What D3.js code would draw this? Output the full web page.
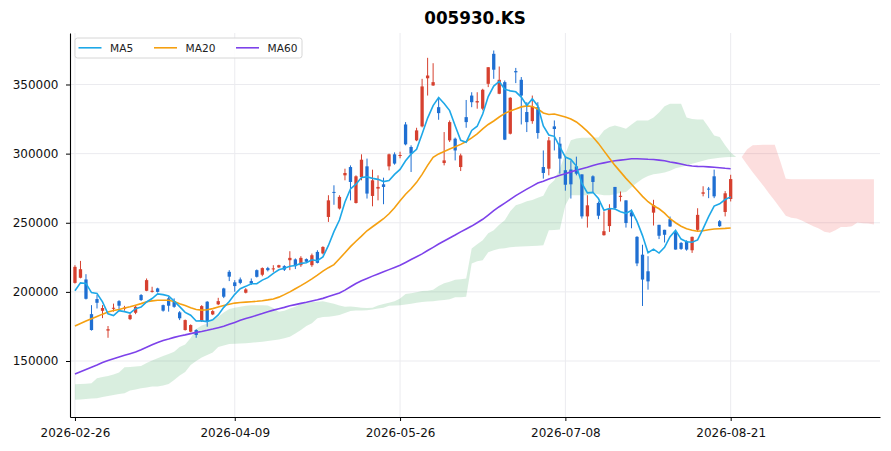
<!DOCTYPE html>
<html><head><meta charset="utf-8">
<script src="https://cdn.jsdelivr.net/npm/d3@7"></script>
<style>html,body{margin:0;padding:0;background:#fff;}svg{display:block;font-family:"DejaVu Sans",sans-serif;}</style>
</head><body>
<svg id="chart" width="891" height="451"></svg>
<script>
const title = "005930.KS";
const tickIdx = [0, 29, 59, 89, 119];
const tickLabels = ["2026-02-26","2026-04-09","2026-05-26","2026-07-08","2026-08-21"];
const yTicks = [150000, 200000, 250000, 300000, 350000];
const seriesNames = ["MA5", "MA20", "MA60"];

const open = [206500,210200,209000,183900,194800,186300,172000,188000,193300,188000,
180300,184900,197700,200800,200000,202500,190400,195300,193300,185200,
172400,171200,172400,178900,192900,183700,191000,202500,214500,206900,
209000,199400,207800,215700,212400,217200,216500,217700,218600,222900,
223500,219300,223700,219300,228900,227800,254200,272300,260300,284300,
290300,264300,283100,290800,269400,274700,277800,290800,299500,298500,
321100,304800,309600,319700,354500,349300,333600,293200,309600,310800,
290300,326400,342000,337000,332500,350500,372200,343300,351700,314400,
359700,353400,330100,323500,333600,290300,289100,319700,307200,288000,
288500,290800,285000,254600,283600,264300,241000,247600,275900,268700,
266200,257500,239800,226900,214900,257300,248500,244900,252600,243100,
235400,236600,230100,244900,271000,274700,283600,251100,257800,267200];

const high = [219300,222400,212800,190400,197700,190400,175300,191500,194000,189900,
184400,190400,198400,209700,203700,203000,190800,196500,195300,186100,
180000,176500,173000,190400,193300,186800,195700,203000,215700,208500,
210400,202700,209700,216200,217700,218100,219300,219600,219300,229400,
224200,225800,224200,227700,230100,233000,269900,277100,269900,289100,
291500,284300,299500,296400,288400,284300,282600,300000,300900,301400,
322800,306000,318700,354100,369300,365400,340800,315600,324000,311600,
300000,338800,344400,344400,346900,362500,374600,363000,352900,340800,
362000,355400,337200,342000,337200,302300,312000,324000,312000,297800,
295100,297800,285000,269900,284300,265400,258200,263400,275900,272600,
266200,259500,240300,234100,225800,266600,248500,244900,254500,243900,
236000,237300,240000,260500,276400,275900,288400,252000,272900,284700];

const low = [206000,209800,194500,172000,188000,181000,166800,185700,187500,186400,
179600,183900,193400,200500,199500,199500,185700,185700,188500,179600,
172000,170800,166800,178200,174800,183200,190400,195500,207800,200100,
205500,198900,205000,210400,211300,214800,214500,217400,215100,215700,
216500,218100,221000,218100,220600,227100,250600,263000,259600,280700,
266200,263900,280700,267500,261900,266200,263400,287900,292000,296600,
306000,286700,309000,319000,342000,349000,324500,291500,308400,295100,
287400,318700,333600,332500,331300,348100,354100,343000,309800,313900,
351000,321100,315600,321600,310800,281900,284300,302300,285500,273200,
267500,284300,253000,246500,271600,252600,240700,243400,259500,265400,
246500,246000,218600,189800,201600,248000,238200,235700,247000,230600,
230400,229800,228200,243900,269100,267800,267800,247000,254600,265400];

const close = [218100,216400,195000,172400,192100,188300,173000,188500,190000,188600,
183200,189200,194100,208500,200800,200000,186400,190000,189200,180900,
179600,176000,168800,189700,178400,186100,193300,196500,211000,204200,
206500,201800,206100,210900,217200,215700,217000,219300,216100,224600,
218600,224600,221800,226500,221000,232500,266200,271600,268700,286000,
279500,283600,295600,271100,280700,275900,275900,299500,292800,299000,
306700,300000,316800,348600,356500,351700,329300,295100,322800,302300,
298700,322800,337200,338000,346200,362500,360700,353400,310100,340400,
358800,342000,322800,334100,314900,286000,309600,317800,296400,277500,
277800,285500,254600,262600,279500,255100,243900,260200,260700,269500,
249800,254600,220600,208900,207600,262800,240600,241300,247300,230600,
231100,230600,239800,255700,272000,274000,269100,247500,271300,281600];

const ma5 = [200800,206500,206100,199500,198800,192800,184200,182900,186400,185700,
184700,187900,189000,192700,195200,198500,198000,197100,193300,189300,
185200,183100,178900,179000,178500,179800,183300,188800,193100,198200,
202300,204000,205900,205900,208500,210300,213400,216000,217100,218500,
219100,220600,221100,223200,222500,225300,233600,243600,252000,265000,
274400,277900,282700,283200,282100,281400,279800,280600,285000,288600,
294800,299600,303100,314200,325700,334700,340600,336200,331100,320200,
309600,308300,316800,319800,328600,341300,348900,352200,346600,345400,
344700,340900,334800,339600,334500,320000,313500,312500,304900,297500,
295800,291000,278400,271600,272000,267500,259100,260300,259900,257900,
256800,259000,251000,240700,228300,230900,228100,232200,239900,244500,
238200,236200,235900,237600,245800,254400,262100,263700,266800,268700];

const ma20 = [175300,177100,178900,180600,182200,183900,185400,186500,187300,188300,
189200,190400,191500,192800,193500,194000,194000,193900,193100,191500,
190100,188600,187200,186800,187100,187900,189000,190100,191000,191900,
192300,192600,192900,193200,193600,194200,194900,196200,198000,200000,
202300,204500,206900,209400,212100,215000,217500,219700,224000,228300,
232700,236600,240300,244200,247100,250000,252900,256500,260800,265900,
270600,274600,279200,285000,291500,297300,299800,301600,303400,304900,
306700,308800,311400,314300,317900,321100,323600,326500,329100,330900,
332300,333800,334500,334100,332300,329400,328300,328700,327600,326500,
325100,322900,319700,316100,312000,307400,302000,296600,291500,286800,
282100,277800,273500,269100,265200,262300,260100,256900,252900,250000,
247500,245700,244600,243900,244200,244900,245500,245700,245900,246200];

const ma60 = [140600,142200,143900,145500,147100,148900,150400,151700,152900,154100,
155300,156500,158100,159900,161700,163400,164800,165900,167100,168100,
168900,169800,170700,171400,172200,173100,174100,175100,176500,177900,
179400,180700,181900,183100,184300,185600,186800,187800,188800,189900,
190800,191700,192500,193400,194300,195300,196600,197900,199200,201300,
203700,206100,208100,209700,211400,213000,214500,216100,217700,219300,
221300,223400,225400,227500,229900,232200,234600,236800,239000,241100,
243400,245500,247600,250000,252500,255600,258700,261600,264200,266900,
269600,272000,274300,276500,278700,280100,281600,282900,284300,285500,
286800,287900,289100,290200,291400,292500,293300,294100,294800,295300,
295800,296300,296300,296100,295900,295800,295300,294800,294000,293300,
292500,291600,291000,290800,290700,290400,290100,289800,289400,289100];

const spanA = [133200,133400,133600,133900,137500,138400,139200,140300,141600,145500,
145700,146000,146400,148600,150400,152000,153600,155100,156700,160100,
161900,166600,173100,175600,177200,179600,182000,185000,187600,188600,
189200,189900,190400,190400,190400,190100,188300,185600,186300,187900,
189200,191500,192300,192600,192800,193300,192300,191500,190100,189200,
189400,189000,188600,188300,188600,190100,191200,192200,193300,195300,
198400,199100,199800,200600,200900,201600,204200,206300,207400,208800,
209200,209700,231400,234500,237400,242400,244600,248600,251800,258300,
262600,263900,265500,266400,268100,269500,277100,280700,289300,300000,
309600,311000,311400,311500,311700,311700,316800,319300,320400,319300,
318000,321100,324000,324000,324000,326200,329800,334200,336100,336100,
336100,326200,325100,324700,324700,319000,313200,312100,306000,300900,
297600,297600,291900,286500,281400,276400,270900,265900,260500,255100,
253600,253000,251400,249400,247500,245800,243500,242800,244600,247000,
247000,247500,250200,249600,249400,248700];

const spanB = [121900,122200,122600,122900,123100,124000,124700,125500,126200,126700,
128700,129400,130300,130900,131500,131500,132300,133400,136300,139500,
142100,147100,150000,152500,154300,156200,160100,161200,162300,162500,
162600,162900,163200,163600,164000,164500,165000,165500,166500,167500,
169900,172400,175300,177400,181000,181800,182100,182500,183200,184700,
186100,186500,186600,186800,187200,187900,188600,189900,190200,190400,
190900,191500,192100,192600,193000,193300,193800,194200,194600,196200,
196200,196400,220500,222200,222900,228700,230100,231200,231600,232300,
232700,232800,233000,233200,233400,233800,244600,244800,245100,262600,
269900,269900,269900,269900,271300,270600,269900,269900,270600,271700,
272200,275600,278900,281800,283900,285000,285700,286400,287600,289400,
290400,291500,292600,293700,294800,295900,296400,297000,297300,297500,
297600,297600,303100,306000,306300,306500,306500,306500,294400,281900,
281400,281400,281400,281400,281400,281400,281400,281400,281400,281400,
281400,281400,281400,281400,281400,281400];

const colors = {up:"#d6402f", down:"#1f6fd2", ma5:"#1ea8e8", ma20:"#f5a011", ma60:"#7d42ea",
  cloudUp:"rgba(46,160,80,0.18)", cloudDown:"rgba(240,60,60,0.17)", grid:"#ebebef"};

const svg = d3.select("#chart");
const L = 70, R = 880, T = 33, B = 417;
const x = d3.scaleLinear().domain([-0.9, 146.1]).range([L, R]);
const y = d3.scaleLinear().domain([109500, 387250]).range([B, T]);

// grid
const g = svg.append("g");
g.selectAll("line.h").data(yTicks).join("line")
  .attr("x1", L).attr("x2", R).attr("y1", d => y(d)).attr("y2", d => y(d))
  .attr("stroke", colors.grid).attr("stroke-width", 1);
g.selectAll("line.v").data(tickIdx).join("line")
  .attr("x1", d => x(d)).attr("x2", d => x(d)).attr("y1", T).attr("y2", B)
  .attr("stroke", colors.grid).attr("stroke-width", 1);

// cloud
const idx = d3.range(spanA.length);
const greenArea = d3.area().x(i => x(i)).y0(i => y(spanB[i])).y1(i => y(Math.max(spanA[i], spanB[i])));
const pinkArea = d3.area().x(i => x(i)).y0(i => y(spanA[i])).y1(i => y(Math.max(spanA[i], spanB[i])));
svg.append("path").attr("d", greenArea(idx)).attr("fill", colors.cloudUp);
svg.append("path").attr("d", pinkArea(idx)).attr("fill", colors.cloudDown);

// candles
const bars = d3.range(close.length);
const bw = 3.3;
const cg = svg.append("g");
cg.selectAll("line").data(bars).join("line")
  .attr("x1", i => x(i)).attr("x2", i => x(i))
  .attr("y1", i => y(high[i])).attr("y2", i => y(low[i]))
  .attr("stroke", i => close[i] >= open[i] ? colors.up : colors.down).attr("stroke-width", 1);
cg.selectAll("rect").data(bars).join("rect")
  .attr("x", i => x(i) - bw / 2).attr("width", bw)
  .attr("y", i => y(Math.max(open[i], close[i])))
  .attr("height", i => Math.max(1, Math.abs(y(open[i]) - y(close[i]))))
  .attr("fill", i => close[i] >= open[i] ? colors.up : colors.down);

// moving averages
const line = arr => d3.line().x((d, i) => x(i)).y(d => y(d))(arr);
svg.append("path").attr("d", line(ma60)).attr("fill", "none").attr("stroke", colors.ma60).attr("stroke-width", 1.6);
svg.append("path").attr("d", line(ma20)).attr("fill", "none").attr("stroke", colors.ma20).attr("stroke-width", 1.6);
svg.append("path").attr("d", line(ma5)).attr("fill", "none").attr("stroke", colors.ma5).attr("stroke-width", 1.6);

// axes
const ya = svg.append("g").attr("transform", `translate(${L},0)`)
  .call(d3.axisLeft(y).tickValues(yTicks).tickFormat(d3.format("d")).tickSize(4).tickSizeOuter(0).tickPadding(7.5));
const xa = svg.append("g").attr("transform", `translate(0,${B})`)
  .call(d3.axisBottom(x).tickValues(tickIdx).tickFormat((d, i) => tickLabels[i]).tickSize(4).tickSizeOuter(0).tickPadding(7));
[ya, xa].forEach(a => {
  a.selectAll("text").attr("font-size", 12).attr("fill", "#111").attr("font-family", "DejaVu Sans");
  a.select(".domain").attr("stroke", "#000").attr("stroke-width", 1.1);
  a.selectAll(".tick line").attr("stroke", "#000");
});

// title
svg.append("text").attr("x", (L + R) / 2).attr("y", 24).attr("text-anchor", "middle")
  .attr("font-size", 16.8).attr("font-weight", "bold").attr("fill", "#000").text(title);

// legend
const lg = svg.append("g");
lg.append("rect").attr("x", 75).attr("y", 38).attr("width", 227).attr("height", 20).attr("rx", 2.5)
  .attr("fill", "rgba(255,255,255,0.85)").attr("stroke", "#d6d6d6").attr("stroke-width", 1);
const lx = [78.5, 154, 236];
const lc = [colors.ma5, colors.ma20, colors.ma60];
seriesNames.forEach((n, k) => {
  lg.append("line").attr("x1", lx[k]).attr("x2", lx[k] + 23).attr("y1", 47.8).attr("y2", 47.8)
    .attr("stroke", lc[k]).attr("stroke-width", 1.6);
  lg.append("text").attr("x", lx[k] + 31.5).attr("y", 51.6).attr("font-size", 10.6).attr("fill", "#222").text(n);
});
</script>
</body></html>
